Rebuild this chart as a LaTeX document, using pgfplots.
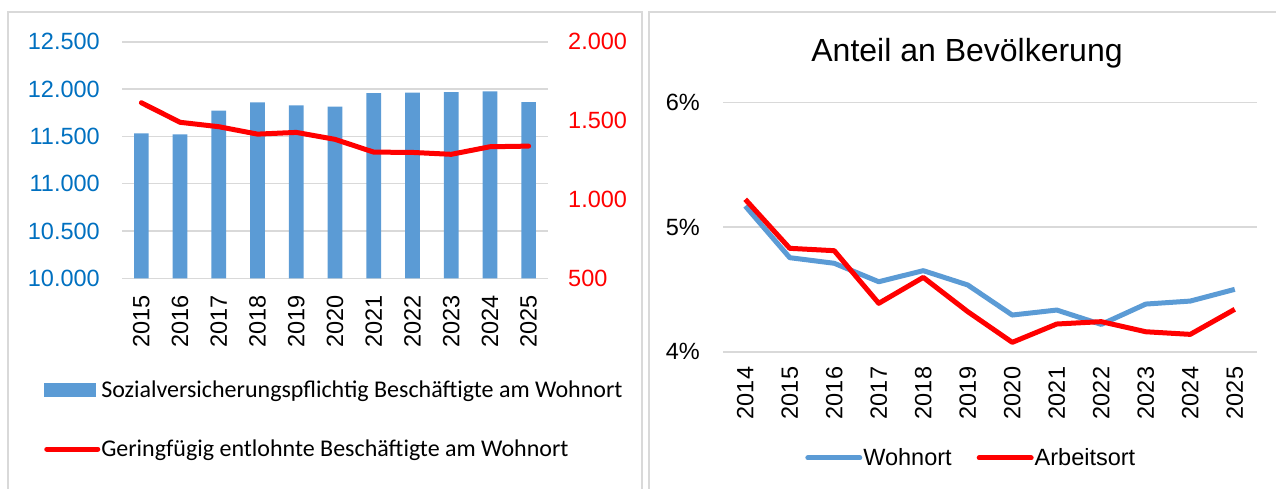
\documentclass[border=0pt]{standalone}
\usepackage{fontspec}
\setmainfont{Liberation Sans}
\newfontfamily\calibri{Carlito}
\usepackage{pgfplots}
\pgfplotsset{compat=1.18}
\definecolor{barblue}{HTML}{5B9BD5}
\definecolor{tickblue}{HTML}{0070C0}
\definecolor{gridgray}{HTML}{D9D9D9}
\definecolor{lineblue}{HTML}{5B9BD5}
\definecolor{exred}{HTML}{FF0000}
\begin{document}
\begin{tikzpicture}[x=1pt,y=1pt]
\path[use as bounding box] (0,0) rectangle (1276,488);
\draw[gridgray, line width=2pt] (8,-5) -- (8,476) -- (642,476) -- (642,-5);
\draw[gridgray, line width=2pt] (649,-5) -- (649,476) -- (1290,476);

% ---------- left panel: bars ----------
\begin{axis}[
  at={(122pt,209.7pt)}, anchor=south west, scale only axis,
  width=426pt, height=236.6pt,
  xmin=-0.5, xmax=10.5, ymin=10000, ymax=12500,
  scaled y ticks=false,
  axis line style={draw=none},
  major tick length=0pt,
  ytick={10000,10500,11000,11500,12000,12500},
  yticklabels={10.000,10.500,11.000,11.500,12.000,12.500},
  yticklabel style={font=\fontsize{23.5}{28}\selectfont, text=tickblue, anchor=east, inner sep=0pt, xshift=-22pt},
  xtick={0,...,10},
  xticklabels={2015,2016,2017,2018,2019,2020,2021,2022,2023,2024,2025},
  xticklabel style={font=\fontsize{23.5}{28}\selectfont, yshift=-17pt, rotate=90, anchor=east, inner sep=0pt},
  ymajorgrids, grid style={gridgray, line width=1.6pt},
  legend style={draw=none, fill=none, at={(-0.19,-0.42)}, anchor=north west,
    font=\calibri\fontsize{24}{28}\selectfont, row sep=39pt,
    nodes={inner sep=1pt}},
  legend cell align=left,
]
\addplot[ybar, bar width=14.7pt, fill=barblue, draw=none,
  legend image code/.code={\fill[barblue] (0pt,-7pt) rectangle (52pt,7pt);}]
  coordinates {(0,11531) (1,11521) (2,11771) (3,11859) (4,11827) (5,11813)
               (6,11957) (7,11961) (8,11968) (9,11975) (10,11862)};
\addlegendentry{Sozialversicherungspflichtig Beschäftigte am Wohnort}
\addlegendimage{legend image code/.code={\draw[exred, line width=5pt, line cap=round] (2.5pt,0pt) -- (53.5pt,0pt);}}
\addlegendentry{Geringfügig entlohnte Beschäftigte am Wohnort}
\end{axis}

% ---------- left panel: red line on right axis ----------
\begin{axis}[
  at={(122pt,209.7pt)}, anchor=south west, scale only axis,
  width=426pt, height=236.6pt,
  xmin=-0.5, xmax=10.5, ymin=500, ymax=2000,
  scaled y ticks=false,
  axis line style={draw=none},
  axis y line*=right, axis x line=none,
  major tick length=0pt,
  ytick={500,1000,1500,2000},
  yticklabels={500,1.000,1.500,2.000},
  yticklabel style={font=\fontsize{23.5}{28}\selectfont, text=exred, anchor=west, inner sep=0pt, xshift=20pt},
  xtick=\empty,
]
\addplot[exred, line width=5pt, line join=round, line cap=round]
  coordinates {(0,1613) (1,1489) (2,1461) (3,1414) (4,1425) (5,1381)
               (6,1300) (7,1298) (8,1286) (9,1334) (10,1338)};
\end{axis}

% ---------- right panel ----------
\begin{axis}[
  at={(723pt,136.3pt)}, anchor=south west, scale only axis,
  width=534pt, height=249.4pt,
  xmin=-0.5, xmax=11.5, ymin=4, ymax=6,
  axis line style={draw=none},
  major tick length=0pt,
  ytick={4,5,6},
  yticklabels={4\%,5\%,6\%},
  yticklabel style={font=\fontsize{23.5}{28}\selectfont, anchor=east, inner sep=0pt, xshift=-23pt},
  xtick={0,...,11},
  xticklabels={2014,2015,2016,2017,2018,2019,2020,2021,2022,2023,2024,2025},
  xticklabel style={font=\fontsize{23.5}{28}\selectfont, yshift=-15pt, rotate=90, anchor=east, inner sep=0pt},
  ymajorgrids, grid style={gridgray, line width=1.6pt},
  title={Anteil an Bevölkerung},
  title style={font=\fontsize{32}{38}\selectfont, at={(0.457,1.138)}, anchor=base, inner sep=0pt},
  legend style={draw=none, fill=none, at={(0.464,-0.426)}, anchor=center,
    font=\fontsize{23.5}{28}\selectfont, nodes={inner sep=1pt},
    /tikz/every even column/.append style={column sep=24pt}},
  legend columns=2,
  legend image code/.code={\draw[#1, line cap=round] (2.5pt,0pt) -- (54.5pt,0pt);},
]
\addplot[lineblue, line width=5pt, line join=round]
  coordinates {(0,5.168) (1,4.754) (2,4.709) (3,4.561) (4,4.650) (5,4.535)
               (6,4.294) (7,4.334) (8,4.219) (9,4.382) (10,4.406) (11,4.500)};
\addlegendentry{Wohnort}
\addplot[exred, line width=5pt, line join=round]
  coordinates {(0,5.222) (1,4.829) (2,4.810) (3,4.388) (4,4.596) (5,4.321)
               (6,4.075) (7,4.222) (8,4.241) (9,4.160) (10,4.139) (11,4.340)};
\addlegendentry{Arbeitsort}
\end{axis}
\end{tikzpicture}
\end{document}
